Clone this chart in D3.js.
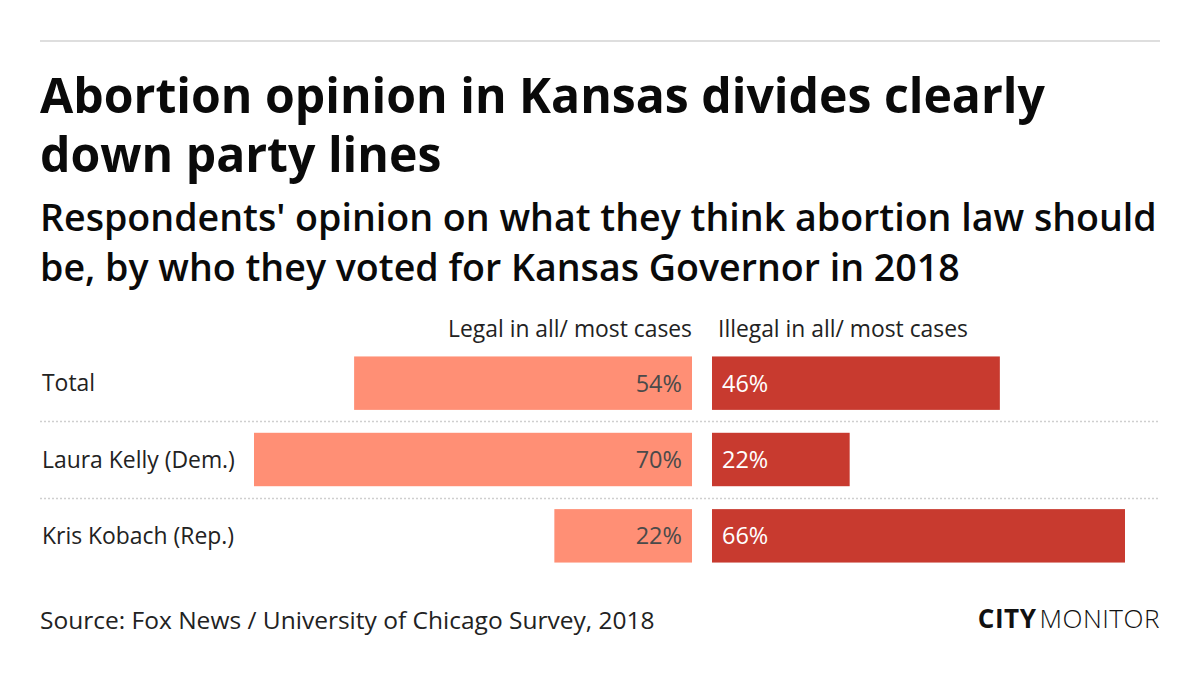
<!DOCTYPE html>
<html>
<head>
<meta charset="utf-8">
<script src="https://cdn.jsdelivr.net/npm/d3@7"></script>
<style>
  body { margin: 0; background: #fff; }
  svg { display: block; font-family: "Open Sans", "Noto Sans", sans-serif; }
</style>
</head>
<body>
<svg id="chart" width="1200" height="678"></svg>
<script>
// data
const groups = ["Total", "Laura Kelly (Dem.)", "Kris Kobach (Rep.)"];
const legal = [54, 70, 22];
const illegal = [46, 22, 66];
const headers = ["Legal in all/ most cases", "Illegal in all/ most cases"];
const titleLines = ["Abortion opinion in Kansas divides clearly", "down party lines"];
const subtitleLines = ["Respondents' opinion on what they think abortion law should", "be, by who they voted for Kansas Governor in 2018"];
const source = "Source: Fox News / University of Chicago Survey, 2018";

const W = 1200, H = 678;
const svg = d3.select("#chart");

const ink = "#0a0a0a";
const lightColor = "#ff8f75";
const darkColor = "#c83a2f";

// scale a text's font-size so its first node spans the given width
function fitTo(sel, width) {
  const node = sel.node();
  const fs = parseFloat(node.getAttribute("font-size"));
  const size = fs * width / node.getComputedTextLength();
  sel.attr("font-size", size);
  return size;
}

// top rule
svg.append("line")
  .attr("x1", 40).attr("x2", 1160).attr("y1", 41).attr("y2", 41)
  .attr("stroke", "#dedede").attr("stroke-width", 2);

// title
const title = svg.append("g").selectAll("text").data(titleLines).join("text")
  .attr("x", 40).attr("y", (d, i) => 113 + i * 59)
  .attr("font-size", 50).attr("font-weight", 700).attr("fill", ink)
  .text(d => d);
fitTo(title, 1005);

const sub = svg.append("g").selectAll("text").data(subtitleLines).join("text")
  .attr("x", 40).attr("y", (d, i) => 231 + i * 50)
  .attr("font-size", 34).attr("font-weight", 600).attr("fill", ink)
  .text(d => d);
fitTo(sub, 1117);

// scales
const mid = 702, gap = 10;
const xL = d3.scaleLinear().domain([0, 70]).range([mid - gap, 254]);
const xR = d3.scaleLinear().domain([0, 66]).range([mid + gap, 1125]);
const y = d3.scaleBand().domain(groups).range([345, 574]).paddingInner(0.3).paddingOuter(0.15);

// headers
const h1 = svg.append("text").attr("x", mid - gap).attr("y", 337).attr("text-anchor", "end")
  .attr("font-size", 21).attr("fill", "#222").text(headers[0]);
const hs = fitTo(h1, 244);
svg.append("text").attr("x", mid + gap + 6).attr("y", 337)
  .attr("font-size", hs).attr("fill", "#222").text(headers[1]);

// separators
const seps = groups.slice(1);
svg.append("g").selectAll("line").data(seps).join("line")
  .attr("x1", 40).attr("x2", 1160)
  .attr("y1", d => Math.round(y(d) - y.step() * y.paddingInner() / 2) + 0.5)
  .attr("y2", d => Math.round(y(d) - y.step() * y.paddingInner() / 2) + 0.5)
  .attr("stroke", "#cfcfcf").attr("stroke-width", 1.5).attr("stroke-dasharray", "2,2");

// row labels
const labels = svg.append("g").selectAll("text").data(groups).join("text")
  .attr("x", 42).attr("y", d => y(d) + y.bandwidth() / 2)
  .attr("dy", "0.35em").attr("font-size", 21).attr("fill", "#222")
  .text(d => d);
labels.attr("font-size", 21 * 193 / labels.filter((d, i) => i === 1).node().getComputedTextLength());

// bars
const rows = groups.map((g, i) => ({ g, l: legal[i], r: illegal[i] }));

svg.append("g").selectAll("rect").data(rows).join("rect")
  .attr("x", d => xL(d.l)).attr("y", d => y(d.g))
  .attr("width", d => xL(0) - xL(d.l)).attr("height", y.bandwidth())
  .attr("fill", lightColor);

svg.append("g").selectAll("rect").data(rows).join("rect")
  .attr("x", xR(0)).attr("y", d => y(d.g))
  .attr("width", d => xR(d.r) - xR(0)).attr("height", y.bandwidth())
  .attr("fill", darkColor);

svg.append("g").selectAll("text").data(rows).join("text")
  .attr("x", xL(0) - 10).attr("y", d => y(d.g) + y.bandwidth() / 2)
  .attr("dy", "0.36em").attr("text-anchor", "end")
  .attr("font-size", 23.5).attr("fill", "#4a4a4a")
  .text(d => d.l + "%");

svg.append("g").selectAll("text").data(rows).join("text")
  .attr("x", xR(0) + 10).attr("y", d => y(d.g) + y.bandwidth() / 2)
  .attr("dy", "0.36em")
  .attr("font-size", 23.5).attr("fill", "#fff")
  .text(d => d.r + "%");

// footer
const src = svg.append("text").attr("x", 40).attr("y", 629)
  .attr("font-size", 23).attr("fill", "#222").text(source);
fitTo(src, 615);

const logo = svg.append("text").attr("x", 1160).attr("y", 628).attr("text-anchor", "end")
  .attr("font-size", 23).attr("fill", "#111").attr("letter-spacing", 0.5);
logo.append("tspan").attr("font-weight", 700).text("CITY");
logo.append("tspan").attr("dx", 3).attr("font-weight", 300).text("MONITOR");
fitTo(logo, 180);
</script>
</body>
</html>
